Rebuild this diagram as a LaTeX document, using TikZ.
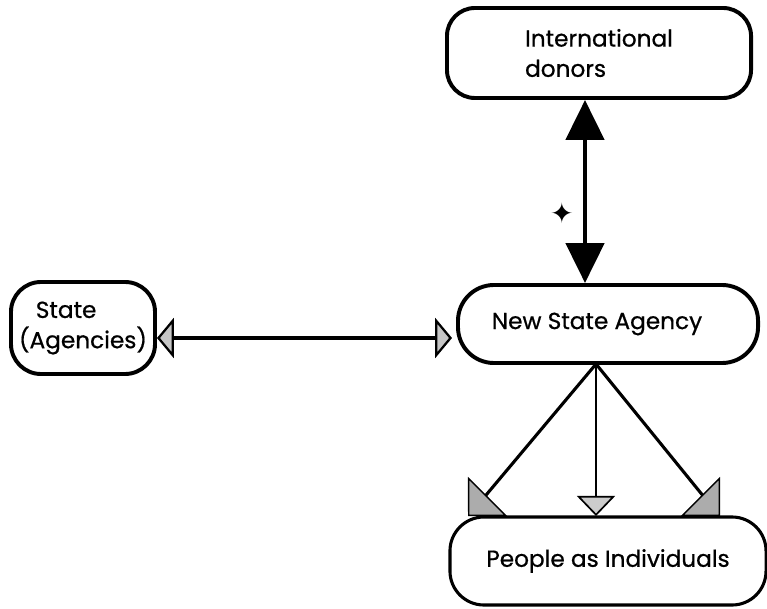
\documentclass[tikz,border=0pt]{standalone}
\usepackage{fontspec}
\setmainfont{Poppins}
\newfontfamily\boxfont[FakeBold=0.7]{Poppins}
\newfontfamily\symfont{DejaVu Sans}
\usetikzlibrary{arrows.meta,positioning}

\begin{document}
\begin{tikzpicture}[
        x=0.025cm, y=-0.025cm,
        bx/.style={draw, line width=2.8pt, fill=white, rounded corners=0.7cm,
                   inner sep=0pt, align=left, font=\boxfont\fontsize{16.5}{21.5}\selectfont},
        dbl/.style={{Triangle[length=1cm,width=0.95cm]}-{Triangle[length=1cm,width=0.95cm]},
                    line width=3.5pt},
        hz/.style={{Triangle[length=0.42cm,width=1cm,fill=gray!45,line width=1.6pt]}-{Triangle[length=0.42cm,width=1cm,fill=gray!45,line width=1.6pt]},
                   line width=2.2pt},
        fork/.style={-{Triangle[length=0.69cm,width=1.38cm,fill=gray!65,line width=1pt]},
                     line width=2.2pt},
        down/.style={-{Triangle[length=0.5cm,width=0.95cm,fill=gray!40,line width=1.2pt]},
                     line width=1.5pt}
      ]
        \useasboundingbox (0,0) rectangle (767,609);
        % Boxes
        \node[bx, minimum width=7.6cm, minimum height=2.25cm] (donors) at (599,53)
             {International\\donors};
        \node[bx, minimum width=7.5cm, minimum height=1.95cm, rounded corners=0.9cm] (agency) at (608,324)
             {New State Agency\hspace*{0.55cm}};
        \node[bx, minimum width=3.6cm, minimum height=2.3cm, rounded corners=0.75cm] (state) at (83,328)
             {\hspace*{0.42cm}State\\(Agencies)};
        \node[bx, line width=2.2pt, minimum width=7.9cm, minimum height=2.2cm, rounded corners=0.85cm] (people) at (608,561)
             {People as Individuals};
        % Donors and agency
        \coordinate (vx) at (585,0);
        \draw[dbl] (donors.south -| vx) -- node[pos=0.62, left=0.22cm, inner sep=0pt,
             font=\symfont\fontsize{20}{20}\selectfont] (star) {✦} (agency.north -| vx);
        % State and agency
        \coordinate (hy) at (0,338);
        \draw[hz] (state.east |- hy) -- ([xshift=-0.1cm]agency.west |- hy);
        % Agency to people
        \coordinate (apex) at (596,364);
        \coordinate (plb) at (471,513);
        \coordinate (pl) at (468,516);
        \coordinate (pm) at (596,516);
        \coordinate (prb) at (717,513);
        \coordinate (pr) at (720,516);
        \draw[fork] (apex) -- (plb) -- (pl);
        \draw[down] (apex) -- (pm);
        \draw[fork] (apex) -- (prb) -- (pr);
      \end{tikzpicture}
\end{document}
